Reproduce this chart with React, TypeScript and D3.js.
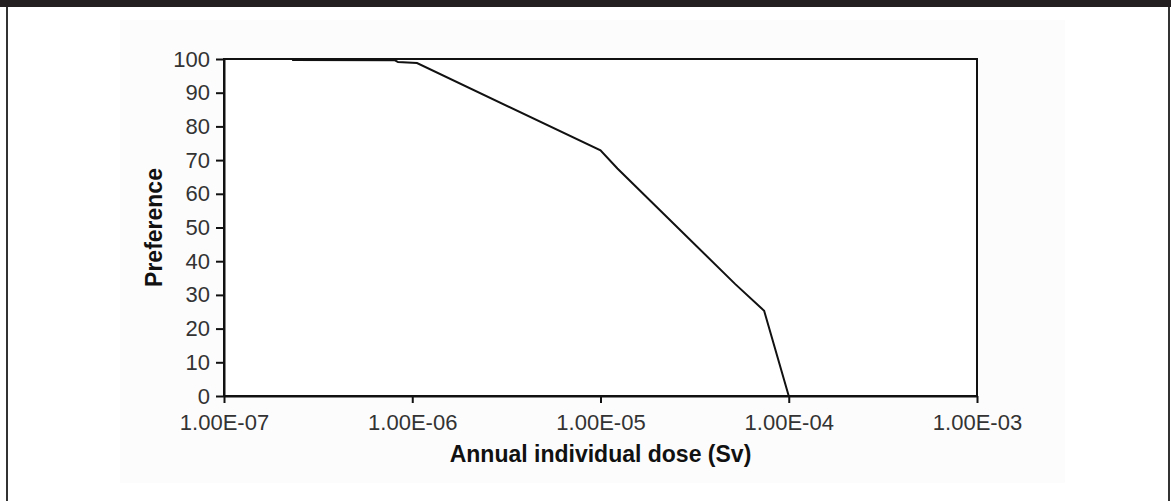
import React, { useEffect, useRef } from 'react';
import * as d3 from 'd3';

// Dose (Sv) vs preference curve
const doses = [2.3e-7, 8.1e-7, 8.4e-7, 1.06e-6, 1.0e-5, 1.23e-5, 5.2e-5, 7.4e-5, 1.0e-4];
const preference = [99.7, 99.6, 99.1, 98.8, 72.9, 67.5, 33.2, 25.3, 0];

const xTicks = [1e-7, 1e-6, 1e-5, 1e-4, 1e-3];
const yTicks = [0, 10, 20, 30, 40, 50, 60, 70, 80, 90, 100];

const xTitle = 'Annual individual dose (Sv)';
const yTitle = 'Preference';

const W = 1171;
const H = 501;

const App: React.FC = () => {
  const ref = useRef<SVGSVGElement | null>(null);

  useEffect(() => {
    if (!ref.current) return;
    const svg = d3.select(ref.current);
    svg.selectAll('*').remove();

    const margin = { top: 59, right: 194, bottom: 105, left: 224 };
    const innerW = W - margin.left - margin.right;
    const innerH = H - margin.top - margin.bottom;
    const font = 'Liberation Sans, Arial, Helvetica, sans-serif';

    // page frame: dark header strip and side rules
    svg.append('rect').attr('x', 0).attr('y', 0).attr('width', W).attr('height', H).attr('fill', '#ffffff');
    svg.append('rect').attr('x', 120).attr('y', 20).attr('width', 945).attr('height', 463).attr('fill', '#fcfcfc');
    svg.append('rect').attr('x', 0).attr('y', 0).attr('width', W).attr('height', 7).attr('fill', '#231f20');
    svg.append('rect').attr('x', 6).attr('y', 7).attr('width', 2).attr('height', H - 7).attr('fill', '#333');
    svg.append('rect').attr('x', 1168).attr('y', 7).attr('width', 2).attr('height', H - 7).attr('fill', '#333');

    const x = d3.scaleLog().domain([1e-7, 1e-3]).range([0, innerW]);
    const y = d3.scaleLinear().domain([0, 100]).range([innerH, 0]);

    const g = svg.append('g').attr('transform', `translate(${margin.left},${margin.top})`);

    // plot area border
    g.append('rect')
      .attr('x', 0).attr('y', 0)
      .attr('width', innerW).attr('height', innerH)
      .attr('fill', '#fff')
      .attr('stroke', '#111')
      .attr('stroke-width', 2);

    const fmt = (d: d3.NumberValue) => {
      const e = Math.round(Math.log10(+d));
      return `1.00E-${String(-e).padStart(2, '0')}`;
    };

    const xAxis = g.append('g')
      .attr('transform', `translate(0,${innerH})`)
      .call(d3.axisBottom(x).tickValues(xTicks).tickFormat(fmt).tickSize(7).tickSizeOuter(0));
    xAxis.select('.domain').attr('stroke', '#111').attr('stroke-width', 2);
    xAxis.selectAll('.tick line').attr('stroke', '#111').attr('stroke-width', 2);
    xAxis.selectAll('.tick text')
      .attr('y', 34)
      .attr('dy', null)
      .attr('fill', '#333')
      .style('font-family', font)
      .style('font-size', '22px');

    const yAxis = g.append('g')
      .call(d3.axisLeft(y).tickValues(yTicks).tickSize(8).tickSizeOuter(0));
    yAxis.select('.domain').attr('stroke', '#111').attr('stroke-width', 2);
    yAxis.selectAll('.tick line').attr('stroke', '#111').attr('stroke-width', 2);
    yAxis.selectAll('.tick text')
      .attr('x', -14)
      .attr('fill', '#333')
      .style('font-family', font)
      .style('font-size', '22px');

    // the curve
    const pts = doses.map((d, i) => [d, preference[i]] as [number, number]);
    const line = d3.line<[number, number]>()
      .x(d => x(d[0]))
      .y(d => y(d[1]));
    g.append('path')
      .datum(pts)
      .attr('d', line)
      .attr('fill', 'none')
      .attr('stroke', '#111')
      .attr('stroke-width', 2);

    // axis titles
    svg.append('text')
      .attr('x', margin.left + innerW / 2)
      .attr('y', 462)
      .attr('text-anchor', 'middle')
      .attr('fill', '#111')
      .style('font-family', font)
      .style('font-size', '23px')
      .style('font-weight', 'bold')
      .text(xTitle);

    svg.append('text')
      .attr('transform', `translate(162,${margin.top + innerH / 2}) rotate(-90)`)
      .attr('text-anchor', 'middle')
      .attr('fill', '#111')
      .style('font-family', font)
      .style('font-size', '23px')
      .style('font-weight', 'bold')
      .text(yTitle);
  }, []);

  return (
    <svg
      ref={ref}
      width={W}
      height={H}
      style={{ position: 'absolute', left: 0, top: 0, display: 'block' }}
    />
  );
};

export default App;
